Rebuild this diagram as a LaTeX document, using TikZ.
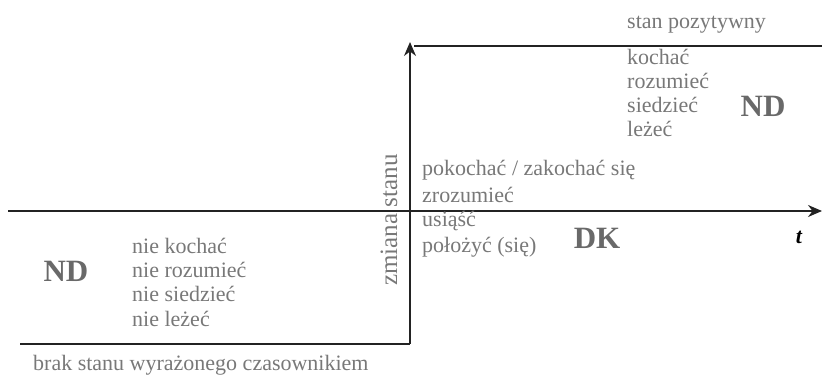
\documentclass[tikz,border=0pt]{standalone}
\usepackage{fontspec}
\setmainfont{Liberation Serif}
\usetikzlibrary{arrows.meta}
\definecolor{txtgray}{RGB}{120,120,120}
\definecolor{biggray}{RGB}{105,105,105}
\definecolor{linegray}{RGB}{35,35,35}
\tikzset{
  lbl/.style={anchor=base west, inner sep=0pt, text=txtgray, font=\fontsize{22}{24}\selectfont},
  big/.style={anchor=center, inner sep=0pt, text=biggray, font=\fontsize{31}{33}\selectfont\bfseries},
  axis/.style={draw=linegray, line width=1.8pt},
  tip/.style={-{Stealth[length=14pt,width=12pt]}}
}
\begin{document}
\begin{tikzpicture}[x=1pt,y=-1pt]
\useasboundingbox (0,0) rectangle (822,375);
% key points
\coordinate (axL) at (8,211);
\coordinate (axR) at (822,211);
\coordinate (botL) at (20,344);
\coordinate (corner) at (410,344);
\coordinate (top) at (410,42);
\coordinate (topL) at (414,46);
\coordinate (topR) at (822,46);
% lines
\draw[axis,tip] (axL) -- (axR);
\draw[axis] (botL) -- (corner);
\draw[axis,tip] (corner) -- (top);
\draw[axis] (topL) -- (topR);
% top right
\node[lbl] (sp) at (627,28) {stan pozytywny};
\node[lbl] (k1) at (627,64) {kochać};
\node[lbl] (k2) at (627,88) {rozumieć};
\node[lbl] (k3) at (627,112) {siedzieć};
\node[lbl] (k4) at (627,136) {leżeć};
\node[big] (nd2) at (763,106) {ND};
% middle
\node[lbl] (p1) at (422,175) {pokochać / zakochać się};
\node[lbl] (p2) at (422,202) {zrozumieć};
\node[lbl] (p3) at (422,226) {usiąść};
\node[lbl] (p4) at (422,252) {położyć (się)};
\node[big] (dk) at (597,238) {DK};
\node[anchor=center, inner sep=0pt, text=black, font=\fontsize{22}{24}\selectfont\bfseries\itshape] (t) at (799,237) {t};
% vertical label
\node[anchor=center, inner sep=0pt, rotate=90, text=txtgray, font=\fontsize{25}{27}\selectfont] (zs) at (389,220) {zmiana stanu};
% bottom left
\node[big] (nd1) at (66,271) {ND};
\node[lbl] (n1) at (132,253) {nie kochać};
\node[lbl] (n2) at (132,277) {nie rozumieć};
\node[lbl] (n3) at (132,301) {nie siedzieć};
\node[lbl] (n4) at (132,326) {nie leżeć};
\node[lbl] (brak) at (33,370) {brak stanu wyrażonego czasownikiem};
\end{tikzpicture}
\end{document}
